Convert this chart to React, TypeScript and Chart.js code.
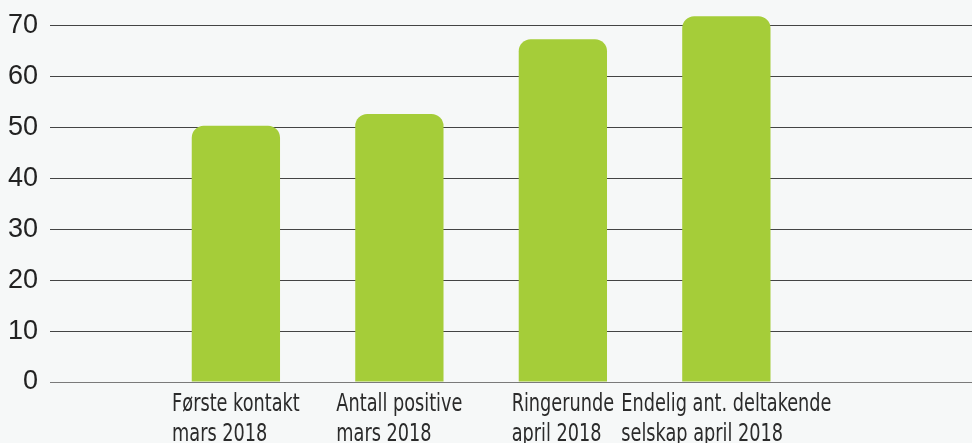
import { useEffect, useRef } from "react";
import { Chart, registerables } from "chart.js";

Chart.register(...registerables);

const categories: string[][] = [
  ["Første kontakt", "mars 2018"],
  ["Antall positive", "mars 2018"],
  ["Ringerunde", "april 2018"],
  ["Endelig ant. deltakende", "selskap april 2018"],
];
const values: number[] = [50.3, 52.6, 67.3, 71.8];
const yTicks: number[] = [0, 10, 20, 30, 40, 50, 60, 70];

const LABEL_FONT = "24px 'DejaVu Sans Condensed', 'Liberation Sans', sans-serif";
const LABEL_SQUEEZE = 0.82;

const xLabelPlugin = {
  id: "condensedXLabels",
  afterDraw(chart: any) {
    const { ctx, chartArea } = chart;
    const xScale = chart.scales.x;
    ctx.save();
    ctx.font = LABEL_FONT;
    ctx.fillStyle = "#2b2b2b";
    ctx.textBaseline = "alphabetic";
    ctx.textAlign = "left";
    categories.forEach((lines, i) => {
      const cx = xScale.getPixelForValue(i);
      const w = Math.max(...lines.map((l) => ctx.measureText(l).width)) * LABEL_SQUEEZE;
      const left = cx - w / 2;
      lines.forEach((line, j) => {
        ctx.save();
        ctx.translate(left, chartArea.bottom + 29 + j * 30);
        ctx.scale(LABEL_SQUEEZE, 1);
        ctx.fillText(line, 0, 0);
        ctx.restore();
      });
    });
    ctx.restore();
  },
};

export default function App() {
  const ref = useRef<HTMLCanvasElement>(null);

  useEffect(() => {
    document.body.style.margin = "0";
    document.body.style.background = "#f6f8f8";
    const chart = new Chart(ref.current!, {
      type: "bar",
      data: {
        datasets: [
          {
            data: values.map((v, i) => ({ x: i, y: v })),
            backgroundColor: "#a5cd39",
            borderRadius: { topLeft: 12, topRight: 12, bottomLeft: 0, bottomRight: 0 },
            borderSkipped: "bottom",
            categoryPercentage: 1,
            barPercentage: 0.54,
          } as any,
        ],
      },
      options: {
        animation: false,
        responsive: false,
        devicePixelRatio: 1,
        layout: { padding: 0 },
        plugins: { legend: { display: false }, tooltip: { enabled: false } },
        scales: {
          x: {
            type: "linear",
            offset: false,
            min: -1.137,
            max: 4.5025,
            grid: { display: false, drawTicks: false },
            border: { display: false },
            afterBuildTicks: (s: any) => {
              s.ticks = categories.map((_, i) => ({ value: i }));
            },
            afterFit: (s: any) => {
              s.height = 61;
              s.paddingLeft = 0;
              s.paddingRight = 0;
            },
            ticks: { display: false },
          },
          y: {
            min: 0,
            max: 75,
            afterBuildTicks: (s: any) => {
              s.ticks = yTicks.map((v) => ({ value: v }));
            },
            afterFit: (s: any) => {
              s.width = 50;
              s.paddingTop = 0;
              s.paddingBottom = 0;
            },
            grid: {
              color: (ctx: any) => (ctx.tick && ctx.tick.value === 0 ? "#7a7a7a" : "#444444"),
              lineWidth: 1,
              drawTicks: false,
            },
            border: { display: false },
            ticks: {
              padding: 12,
              color: "#222222",
              font: { family: "'Liberation Sans', Arial, sans-serif", size: 27 },
            },
          },
        },
      } as any,
      plugins: [xLabelPlugin],
    });
    return () => chart.destroy();
  }, []);

  return (
    <div style={{ width: 972, height: 443, background: "#f6f8f8" }}>
      <canvas ref={ref} width={972} height={443} />
    </div>
  );
}
